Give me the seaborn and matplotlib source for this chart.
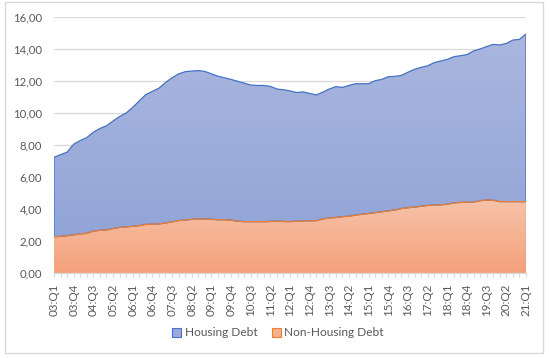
import numpy as np
import pandas as pd
import matplotlib
matplotlib.use("Agg")
import matplotlib.pyplot as plt
import seaborn as sns
from matplotlib.patches import Patch, Rectangle, Polygon
from matplotlib.colors import LinearSegmentedColormap
from matplotlib.ticker import FuncFormatter, FixedLocator

# ---------------- data ----------------
years = [f"{y:02d}" for y in range(3, 22)]
quarter_names = ["Q1", "Q2", "Q3", "Q4"]
quarters = [f"{y}:{q}" for y in years for q in quarter_names][:73]

non_housing = [2.27, 2.29, 2.33, 2.38, 2.45, 2.48, 2.62, 2.67, 2.69, 2.78,
               2.85, 2.88, 2.92, 2.96, 3.04, 3.05, 3.07, 3.12, 3.20, 3.28,
               3.30, 3.35, 3.38, 3.38, 3.36, 3.33, 3.33, 3.30, 3.24, 3.21,
               3.21, 3.21, 3.21, 3.22, 3.25, 3.22, 3.21, 3.24, 3.25, 3.26,
               3.27, 3.38, 3.44, 3.47, 3.52, 3.55, 3.62, 3.67, 3.72, 3.77,
               3.83, 3.88, 3.94, 4.03, 4.08, 4.12, 4.17, 4.22, 4.25, 4.26,
               4.30, 4.38, 4.41, 4.42, 4.43, 4.52, 4.56, 4.55, 4.46, 4.46,
               4.46, 4.46, 4.46]

housing = [4.96, 5.11, 5.22, 5.67, 5.83, 5.98, 6.18, 6.36, 6.51, 6.72,
           6.93, 7.12, 7.43, 7.79, 8.11, 8.30, 8.48, 8.78, 9.00, 9.16,
           9.28, 9.27, 9.27, 9.22, 9.09, 8.97, 8.87, 8.80, 8.74, 8.66,
           8.54, 8.51, 8.51, 8.44, 8.25, 8.23, 8.17, 8.04, 8.07, 7.96,
           7.86, 7.92, 8.06, 8.18, 8.08, 8.17, 8.21, 8.16, 8.11, 8.25,
           8.27, 8.39, 8.35, 8.32, 8.47, 8.61, 8.68, 8.73, 8.90, 8.99,
           9.05, 9.14, 9.17, 9.23, 9.45, 9.48, 9.59, 9.74, 9.79, 9.89,
           10.10, 10.14, 10.48]

y_ticks = [0, 2, 4, 6, 8, 10, 12, 14, 16]

df = pd.DataFrame({"quarter": quarters,
                   "Non-Housing Debt": non_housing,
                   "Housing Debt": housing})
df["pos"] = np.arange(len(df))
df["total"] = df["Non-Housing Debt"] + df["Housing Debt"]

# ---------------- style ----------------
sns.set_theme(style="white")
plt.rcParams["font.family"] = ["Lato", "DejaVu Sans"]
txt_col = "#595959"
grid_col = "#d9d9d9"

fig = plt.figure(figsize=(5.49, 3.58), dpi=100)
fig.patch.set_facecolor("white")
ax = fig.add_axes([54 / 549, 1 - 273 / 358, 472 / 549, 256 / 358])
ax.set_facecolor("white")

x = df["pos"].to_numpy(dtype=float)
tot = df["total"].to_numpy()
nh = df["Non-Housing Debt"].to_numpy()

# blue (housing) area: between non-housing and total
blue_verts = list(zip(x, tot)) + list(zip(x[::-1], nh[::-1]))
blue_poly = Polygon(blue_verts, closed=True, facecolor="none", edgecolor="none")
ax.add_patch(blue_poly)
grad = np.linspace(0, 1, 256).reshape(-1, 1)
cmap_b = LinearSegmentedColormap.from_list("b", ["#8ea1d6", "#aab7df"])
im_b = ax.imshow(grad, cmap=cmap_b, aspect="auto", origin="lower",
                 extent=[x[0], x[-1], 0, tot.max()], zorder=1,
                 interpolation="bilinear")
im_b.set_clip_path(blue_poly)

# orange (non-housing) area: from 0 to non-housing
or_verts = list(zip(x, nh)) + [(x[-1], 0), (x[0], 0)]
or_poly = Polygon(or_verts, closed=True, facecolor="none", edgecolor="none")
ax.add_patch(or_poly)
cmap_o = LinearSegmentedColormap.from_list("o", ["#f4a17b", "#f7c2a8"])
im_o = ax.imshow(grad, cmap=cmap_o, aspect="auto", origin="lower",
                 extent=[x[0], x[-1], 0, nh.max()], zorder=2,
                 interpolation="bilinear")
im_o.set_clip_path(or_poly)

# outlines
ax.add_patch(Polygon(blue_verts, closed=True, facecolor="none",
                     edgecolor="#4472c4", lw=0.9, zorder=3))
sns.lineplot(data=df, x="pos", y="Non-Housing Debt", color="#ed7d31",
             lw=0.9, ax=ax, zorder=4)
ax.plot([x[-1], x[-1]], [0, nh[-1]], color="#ed7d31", lw=0.9, zorder=4)

# axes
ax.set_xlim(x[0], x[-1])
ax.set_ylim(y_ticks[0], y_ticks[-1])
ax.set_yticks(y_ticks)
ax.yaxis.set_major_formatter(FuncFormatter(lambda v, p: f"{v:.2f}".replace(".", ",")))
ax.yaxis.grid(True, color=grid_col, lw=0.9)
ax.set_axisbelow(True)
ax.set_xlabel("")
ax.set_ylabel("")

ax.set_xticks(x[::3])
ax.set_xticklabels(df["quarter"].iloc[::3], rotation=90)
ax.xaxis.set_minor_locator(FixedLocator(x))

for s in ["top", "right", "left"]:
    ax.spines[s].set_visible(False)
ax.spines["bottom"].set_color(grid_col)
ax.spines["bottom"].set_linewidth(0.9)
ax.spines["bottom"].set_zorder(5)

ax.tick_params(axis="y", length=0, pad=8.5, labelsize=8.2, labelcolor=txt_col)
ax.tick_params(axis="x", which="both", length=3.2, width=0.8, color=grid_col,
               direction="out", bottom=True, pad=4.5, labelsize=8.4,
               labelcolor=txt_col)

# legend
handles = [Patch(facecolor="#9aaadb", edgecolor="#4472c4", lw=0.8, label="Housing Debt"),
           Patch(facecolor="#f5b08e", edgecolor="#ed7d31", lw=0.8, label="Non-Housing Debt")]
leg = fig.legend(handles=handles, loc="center", bbox_to_anchor=(278 / 549, 1 - 333 / 358),
                 ncol=2, frameon=False, fontsize=8.6, handlelength=0.75,
                 handleheight=0.75, handletextpad=0.3, columnspacing=1.2)
for t in leg.get_texts():
    t.set_color(txt_col)

# outer border
fig.add_artist(Rectangle((5 / 549, 1 - 353 / 358), 538 / 549, 351 / 358,
                         transform=fig.transFigure, facecolor="none",
                         edgecolor=grid_col, lw=1.0))

fig.savefig("out.png", dpi=100)
